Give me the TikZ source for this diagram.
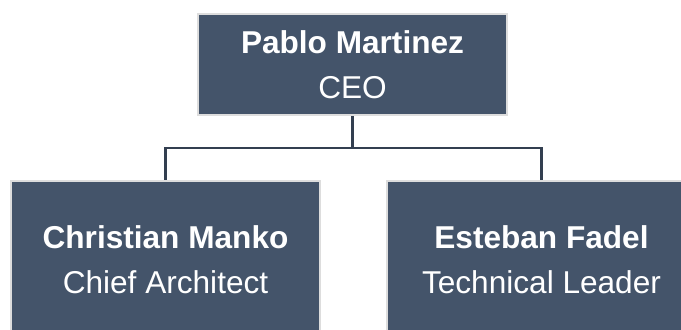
\documentclass[tikz,border=0pt]{standalone}
\usepackage{fontspec}
\setmainfont{Liberation Sans}
\usepackage{tikz}
\usetikzlibrary{positioning}
\definecolor{slate}{HTML}{44546A}
\definecolor{wire}{HTML}{333F50}
\definecolor{rim}{HTML}{DDDDDD}
\newcommand{\person}[2]{\textbf{#1}\\#2}

\begin{document}
\begin{tikzpicture}[x=0.5pt, y=-0.5pt,
        card/.style={rectangle, fill=slate, draw=rim, line width=1pt,
            minimum width=154.5pt, text=white, align=center,
            font=\fontsize{15.8}{22.5}\selectfont},
        link/.style={draw=wire, line width=1.25pt}]
        % Page frame
        \useasboundingbox (0,0) rectangle (681,329);
        \clip (0,0) rectangle (681,329);

        % Boxes
        \node[card, minimum height=50.5pt] (ceo) at (352.5,64.5) {\person{Pablo Martinez}{CEO}};
        \node[card, minimum height=78.5pt] (arch) at (165.5,259.5) {\person{Christian Manko}{Chief Architect}};
        \node[card, minimum height=78.5pt] (lead) at (541.5,259.5) {\person{Esteban Fadel}{Technical Leader}};

        % Connectors
        \coordinate (bus) at (352.5,148);
        \draw[link] (ceo) -- (bus);
        \draw[link] (bus) -| (arch);
        \draw[link] (bus) -| (lead);
    \end{tikzpicture}
\end{document}
